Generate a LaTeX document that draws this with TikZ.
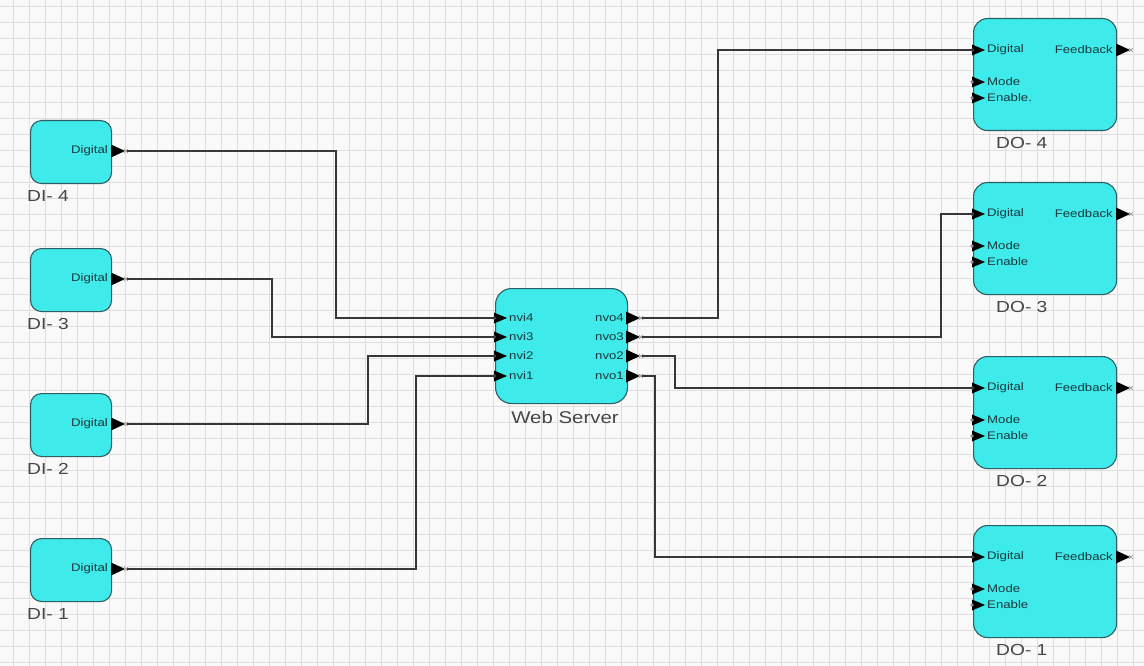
\documentclass[tikz,border=0pt]{standalone}
\usepackage{fontspec}
\setmainfont{Liberation Sans}
\newfontfamily\widefont[FakeStretch=1.2]{Liberation Sans}
\definecolor{bgc}{RGB}{249,249,249}
\definecolor{gridc}{RGB}{222,222,222}
\definecolor{boxfill}{RGB}{62,234,234}
\definecolor{boxline}{RGB}{45,95,100}
\definecolor{porttext}{RGB}{30,55,60}
\definecolor{labeltext}{RGB}{70,70,70}
\definecolor{wirec}{RGB}{55,55,55}
\definecolor{markc}{RGB}{150,140,160}
\tikzset{
  blk/.style={draw=boxline, fill=boxfill, line width=1.1pt, rounded corners=11pt, inner sep=0pt},
  ptext/.style={font=\widefont\fontsize{11}{12}\selectfont, text=porttext, inner sep=0pt},
  nlabel/.style={font=\widefont\fontsize{16}{18}\selectfont, text=labeltext, inner sep=0pt},
  wire/.style={draw=wirec, line width=1.3pt},
  inport/.pic={\fill[black] (-3,-5.5) -- (10,0) -- (-3,5.5) -- cycle; \fill[markc] (-3,0) circle (1.8);},
  outport/.pic={\fill[black] (0,-6.5) -- (14,0) -- (0,6.5) -- cycle; \draw[markc, line width=0.6pt] (13,-2) -- (17,2) (13,2) -- (17,-2);}
}
\begin{document}
\begin{tikzpicture}[x=1pt,y=-1pt]
\useasboundingbox (0,0) rectangle (1144,666);
\fill[bgc] (0,0) rectangle (1144,666);
\foreach \x in {13,29,...,1144} \draw[gridc, line width=0.5pt] (\x,0) -- (\x,666);
\foreach \y in {6,22,...,666} \draw[gridc, line width=0.5pt] (0,\y) -- (1144,\y);

% ---- DI blocks ----
\foreach \n/\t in {4/120,3/248,2/393,1/538}{
  \node[blk, minimum width=81pt, minimum height=63pt, anchor=north west] (di\n) at (30,\t) {};
  \node[ptext, anchor=east] (di\n t) at (108,\t+31) {Digital};
  \node[nlabel, anchor=west] (di\n l) at (27,\t+76) {DI- \n};
  \pic at (111,\t+31) {outport};
  \coordinate (di\n o) at (127,\t+31);
}

% ---- Web Server ----
\node[blk, minimum width=132pt, minimum height=115pt, anchor=north west, rounded corners=16pt] (ws) at (495,288) {};
\node[nlabel, font=\widefont\fontsize{17}{19}\selectfont] (wsl) at (565,417) {Web Server};
\foreach \n/\y in {4/318,3/337,2/356,1/376}{
  \pic at (497,\y) {inport};
  \node[ptext, anchor=west] (wsi\n t) at (509,\y) {nvi\n};
  \coordinate (wsi\n) at (495,\y);
  \node[ptext, anchor=east] (wso\n t) at (624,\y) {nvo\n};
  \pic at (626,\y) {outport};
  \coordinate (wso\n) at (642,\y);
}

% ---- DO blocks ----
\foreach \n/\t in {4/18,3/182,2/356,1/525}{
  \node[blk, minimum width=143pt, minimum height=112pt, anchor=north west, rounded corners=14pt] (do\n) at (973,\t) {};
  \node[nlabel, anchor=west] (do\n l) at (996,\t+125) {DO- \n};
  \pic at (975,\t+32) {inport};
  \pic at (975,\t+64) {inport};
  \pic at (975,\t+80) {inport};
  \node[ptext, anchor=west] (do\n d) at (987,\t+32) {Digital};
  \node[ptext, anchor=west] (do\n m) at (987,\t+64) {Mode};
  \node[ptext, anchor=west] (do\n e) at (987,\t+80) {Enable\ifnum\n=4 .\fi};
  \node[ptext, anchor=east] (do\n f) at (1113,\t+32) {Feedback};
  \pic at (1116,\t+32) {outport};
  \coordinate (do\n i) at (973,\t+32);
}

% ---- wires ----
\draw[wire] (di4o) -| (336,318) -- (wsi4);
\draw[wire] (di3o) -| (272,337) -- (wsi3);
\draw[wire] (di2o) -| (368,356) -- (wsi2);
\draw[wire] (di1o) -| (416,376) -- (wsi1);
\draw[wire] (wso4) -| (718,50) -- (do4i);
\draw[wire] (wso3) -| (941,214) -- (do3i);
\draw[wire] (wso2) -| (675,388) -- (do2i);
\draw[wire] (wso1) -| (655,557) -- (do1i);
\end{tikzpicture}
\end{document}
